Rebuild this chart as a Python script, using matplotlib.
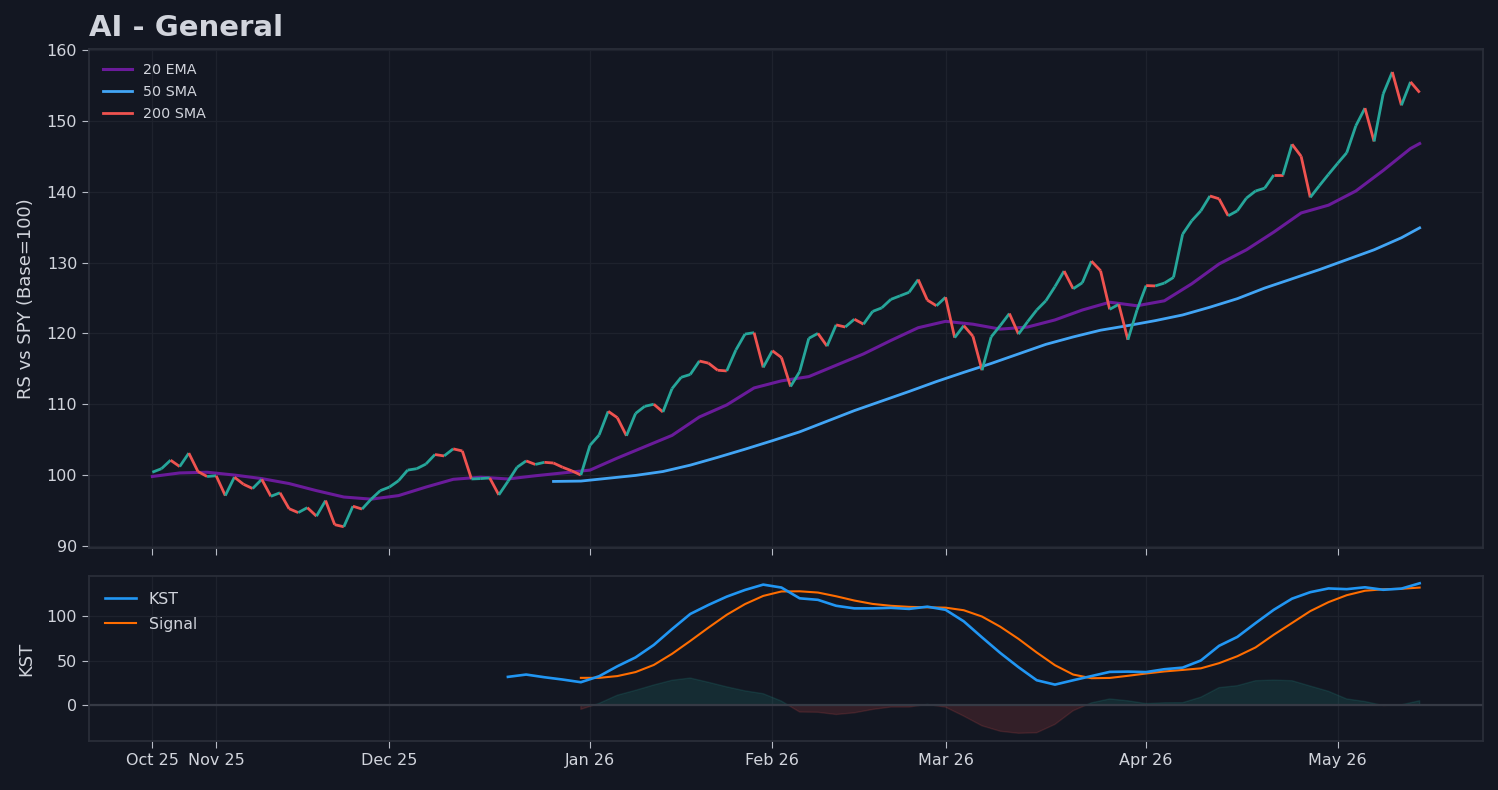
import numpy as np
import pandas as pd
import matplotlib
matplotlib.use("Agg")
import matplotlib.pyplot as plt
from matplotlib.collections import LineCollection

# --- colours (dark chart theme) ---
BG = "#131722"
SPINE = "#2a2e39"
GRID = "#1e222d"
TEXT = "#d1d4dc"
UP = "#26a69a"
DOWN = "#ef5350"
EMA_CLR = "#6a1b9a"
SMA50_CLR = "#42a5f5"
SMA200_CLR = "#ef5350"
KST_CLR = "#2196f3"
SIG_CLR = "#ff6d00"

plt.rcParams.update({
    "figure.facecolor": BG,
    "axes.facecolor": BG,
    "axes.edgecolor": SPINE,
    "axes.labelcolor": TEXT,
    "xtick.color": TEXT,
    "ytick.color": TEXT,
    "text.color": TEXT,
    "font.family": "DejaVu Sans",
})

# --- data: trading days Oct 23 2025 .. May 14 2026 ---
holidays = ["2025-11-27", "2025-12-25", "2026-01-01", "2026-01-19",
            "2026-02-16", "2026-04-03"]
dates = pd.bdate_range("2025-10-23", "2026-05-14", freq="C", holidays=holidays)

# relative strength vs SPY (base = 100)
rs = [
    100.4, 100.9, 102.1, 101.2, 103.1, 100.5, 99.8, 99.9, 97.1, 99.7,
    98.7, 98.1, 99.4, 97.0, 97.5, 95.25, 94.7, 95.4, 94.2, 96.4,
    93.0, 92.7, 95.6, 95.2, 96.6, 97.8, 98.3, 99.2, 100.7, 100.9,
    101.55, 102.9, 102.7, 103.7, 103.4, 99.45, 99.5, 99.6, 97.2, 99.1,
    101.1, 102.0, 101.5, 101.8, 101.7, 101.1, 100.6, 100.0, 104.2, 105.65,
    109.0, 108.1, 105.55, 108.7, 109.7, 110.0, 108.9, 112.2, 113.8, 114.2,
    116.1, 115.8, 114.8, 114.7, 117.65, 119.9, 120.1, 115.2, 117.55, 116.6,
    112.5, 114.6, 119.3, 120.0, 118.2, 121.2, 120.9, 122.0, 121.3, 123.1,
    123.6, 124.8, 125.3, 125.8, 127.6, 124.7, 123.9, 125.1, 119.4, 121.1,
    119.6, 114.8, 119.5, 121.1, 122.8, 119.9, 121.65, 123.3, 124.6, 126.6,
    128.8, 126.3, 127.15, 130.2, 128.85, 123.4, 124.1, 119.1, 123.3, 126.75,
    126.7, 127.1, 127.9, 134.0, 135.9, 137.3, 139.4, 139.0, 136.6, 137.3,
    139.1, 140.1, 140.5, 142.35, 142.35, 146.7, 145.0, 139.2, 140.85, 142.45,
    144.0, 145.5, 149.3, 151.8, 147.1, 153.8, 156.9, 152.2, 155.5, 154.0,
]

# 20 EMA, read every 3rd day
ema_idx = list(range(0, 140, 3)) + [139]
ema20 = [
    99.8, 100.3, 100.4, 100.0, 99.5, 98.8, 97.8, 96.9, 96.6, 97.1,
    98.3, 99.4, 99.7, 99.45, 99.9, 100.3, 100.7, 102.4, 104.0, 105.6,
    108.2, 109.9, 112.3, 113.3, 113.9, 115.5, 117.1, 119.0, 120.8, 121.7,
    121.3, 120.6, 120.9, 121.9, 123.3, 124.4, 123.9, 124.6, 127.0, 129.8,
    131.8, 134.3, 137.0, 138.1, 140.1, 143.0, 146.1, 146.8,
]

# 50 SMA, read every 3rd day from where it starts
sma_idx = list(range(44, 140, 3)) + [139]
sma50 = [
    99.1, 99.15, 99.55, 99.95, 100.5, 101.4, 102.5, 103.65, 104.85, 106.1,
    107.6, 109.1, 110.45, 111.8, 113.2, 114.5, 115.75, 117.1, 118.45, 119.5,
    120.45, 121.1, 121.8, 122.6, 123.7, 124.9, 126.4, 127.7, 129.0, 130.4,
    131.8, 133.5, 134.9,
]

# KST and signal, read every 2nd day
kst_idx = list(range(39, 140, 2))
kst = [
    31.6, 34.2, 31.2, 28.6, 25.6, 32.3, 43.5, 53.5, 67.5, 85.3,
    102.3, 112.5, 121.8, 129.3, 135.3, 132.0, 119.9, 118.2, 111.5, 108.6,
    108.6, 109.2, 108.0, 110.5, 107.0, 94.0, 76.0, 58.5, 42.5, 27.8,
    22.9, 27.8, 32.5, 37.2, 37.5, 37.0, 40.2, 42.0, 50.0, 66.5,
    76.5, 92.0, 107.0, 119.5, 126.8, 131.0, 130.2, 132.3, 129.5, 130.8,
    136.8,
]
sig_idx = list(range(47, 140, 2))
signal = [
    30.5, 30.5, 32.5, 37.0, 45.0, 57.5, 72.0, 87.0, 101.4, 113.4,
    122.6, 127.6, 127.8, 126.4, 122.2, 117.4, 113.6, 111.5, 110.3, 109.8,
    109.4, 106.5, 99.4, 88.0, 74.3, 59.0, 44.7, 34.2, 30.1, 30.4,
    32.8, 35.4, 37.7, 39.4, 41.2, 47.0, 54.8, 64.7, 79.0, 92.2,
    105.5, 115.6, 123.4, 128.4, 130.1, 130.6, 132.0,
]

x = np.arange(len(rs))
rs_arr = np.array(rs)
kst_arr = np.array(kst)
sig_arr = np.array(signal)
hist = kst_arr[len(kst_idx) - len(sig_idx):] - sig_arr

# month ticks at first trading day of each month
months = dates.to_period("M")
tick_pos = [i for i in range(len(dates)) if i == 0 or months[i] != months[i - 1]]
tick_lbl = [dates[i].strftime("%b %y") for i in tick_pos]

# --- figure ---
fig = plt.figure(figsize=(14.98, 7.90), dpi=100)
ax1 = fig.add_axes([0.0594, 0.3063, 0.9306, 0.6317])
ax2 = fig.add_axes([0.0594, 0.0620, 0.9306, 0.2089], sharex=ax1)

for ax in (ax1, ax2):
    for s in ax.spines.values():
        s.set_color(SPINE)
        s.set_linewidth(1.3)
    ax.grid(True, color=GRID, linewidth=0.9)
    ax.set_axisbelow(True)
    ax.tick_params(labelsize=11.5, colors="#b8bcc6", labelcolor=TEXT, length=5)

# price panel: up/down coloured RS line
pts = np.column_stack([x, rs_arr])
segs = np.stack([pts[:-1], pts[1:]], axis=1)
seg_colors = [UP if d > 0 else DOWN for d in np.diff(rs_arr)]
ax1.add_collection(LineCollection(segs, colors=seg_colors, linewidths=2.0, zorder=4))
ax1.plot(ema_idx, ema20, color=EMA_CLR, linewidth=2.2, label="20 EMA", zorder=3)
ax1.plot(sma_idx, sma50, color=SMA50_CLR, linewidth=2.0, label="50 SMA", zorder=3)
ax1.plot([], [], color=SMA200_CLR, linewidth=2.0, label="200 SMA")
ax1.set_xlim(-6.95, 145.95)
ax1.set_ylim(89.7, 160.15)
ax1.set_yticks(np.arange(90, 161, 10))
ax1.set_ylabel("RS vs SPY (Base=100)", fontsize=13, labelpad=8)
ax1.set_title("AI - General", loc="left", fontsize=21, fontweight="bold",
              color=TEXT, pad=9)
leg1 = ax1.legend(loc="upper left", frameon=False, fontsize=10.3,
                  borderaxespad=0.6, labelspacing=0.55)
for t in leg1.get_texts():
    t.set_color(TEXT)
plt.setp(ax1.get_xticklabels(), visible=False)

# KST panel
ax2.axhline(0, color="#363a45", linewidth=1.6, zorder=2)
ax2.fill_between(sig_idx, 0, hist, where=hist >= 0, interpolate=True,
                 color=UP, alpha=0.15, zorder=1)
ax2.fill_between(sig_idx, 0, hist, where=hist < 0, interpolate=True,
                 color=DOWN, alpha=0.15, zorder=1)
ax2.plot(kst_idx, kst, color=KST_CLR, linewidth=1.9, label="KST", zorder=4)
ax2.plot(sig_idx, signal, color=SIG_CLR, linewidth=1.5, label="Signal", zorder=3)
ax2.set_ylim(-40.5, 145)
ax2.set_yticks([0, 50, 100])
ax2.set_ylabel("KST", fontsize=13, labelpad=8)
ax2.set_xticks(tick_pos)
ax2.set_xticklabels(tick_lbl)
leg2 = ax2.legend(loc="upper left", frameon=False, fontsize=11.3,
                  borderaxespad=0.6, labelspacing=0.65)
for t in leg2.get_texts():
    t.set_color(TEXT)

fig.savefig("out.png", dpi=100, facecolor=BG)
